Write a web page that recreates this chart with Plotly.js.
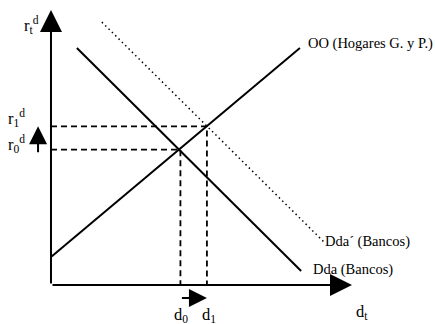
<!DOCTYPE html>
<html>
<head>
<meta charset="utf-8">
<script src="https://cdn.plot.ly/plotly-3.0.1.min.js"></script>
<style>
  html, body { margin: 0; padding: 0; background: #fff; }
  #chart { width: 435px; height: 324px; }
</style>
</head>
<body>
<div id="chart"></div>
<script>
/* ─── Mercado de depósitos: oferta OO y demanda Dda / Dda´ ─── */

// curve end points (abstract units, origin at the axes corner)
const ooX = [0, 82.7];
const ooY = [10.2, 86.2];
const ddaX = [8.6, 83.1];
const ddaY = [86.2, 5.1];
const ddaPrimeX = [16.9, 91.0];
const ddaPrimeY = [95.6, 15.3];

// equilibria: 0 = before the shift, 1 = after
const dEq = [43.0, 51.8];
const rEq = [49.2, 57.7];

const curveNames = ['OO (Hogares G. y P.)', 'Dda (Bancos)', 'Dda´ (Bancos)'];
const rLabels = ['r<sub>0</sub><sup>d</sup>', 'r<sub>1</sub><sup>d</sup>'];
const dLabels = ['d<sub>0</sub>', 'd<sub>1</sub>'];
const axisLabels = ['d<sub>t</sub>', 'r<sub>t</sub><sup>d</sup>'];

const INK = '#000000';
const SERIF = 'Liberation Serif, Times New Roman, serif';
const FONT = { family: SERIF, size: 14.5, color: INK };
const SYM_FONT = { family: SERIF, size: 16.5, color: INK };

function line(x, y, dash, width) {
    return {
        x: x, y: y, type: 'scatter', mode: 'lines', hoverinfo: 'skip',
        cliponaxis: false,
        line: { color: INK, width: width, dash: dash },
    };
}

const traces = [
    line(ooX, ooY, 'solid', 2),
    line(ddaX, ddaY, 'solid', 2),
    line(ddaPrimeX, ddaPrimeY, '1.5px,3.2px', 1.5),
    // guide lines to the axes
    line([0, dEq[1], dEq[1]], [rEq[1], rEq[1], 0], '6px,4px', 1.8),
    line([0, dEq[0], dEq[0]], [rEq[0], rEq[0], 0], '6px,4px', 1.8),
];

function arrow(x0, y0, x1, y1, size) {
    return {
        x: x1, y: y1, ax: x0, ay: y0,
        xref: 'x', yref: 'y', axref: 'x', ayref: 'y',
        text: '', showarrow: true,
        arrowhead: 2, arrowsize: size, arrowwidth: 2, arrowcolor: INK,
    };
}

function label(text, x, y, anchor, font) {
    return {
        text: text, x: x, y: y, xref: 'x', yref: 'y',
        xanchor: anchor || 'center', yanchor: 'middle',
        showarrow: false, font: font || FONT,
    };
}

const annotations = [
    // axes
    arrow(0, 0, 0, 100, 2.2),
    arrow(0, 0, 100, 0, 2.2),
    // shift arrows
    arrow(-4.3, rEq[0] - 1.5, -4.3, rEq[1], 1.8),
    arrow(dEq[0], -4.7, dEq[1], -4.7, 1.8),
    // texts
    label(axisLabels[1], -6.6, 94.5, 'center', SYM_FONT),
    label(axisLabels[0], 103.3, -9.8, 'center', SYM_FONT),
    label(rLabels[1], -11.3, 60.6, 'center', SYM_FONT),
    label(rLabels[0], -11.3, 51.2, 'center', SYM_FONT),
    label(dLabels[0], dEq[0] + 0.2, -11.0, 'center', SYM_FONT),
    label(dLabels[1], dEq[1] + 0.6, -11.0, 'center', SYM_FONT),
    label(curveNames[0], 84.7, 87.8, 'left'),
    label(curveNames[1], 86.4, 5.6, 'left'),
    label(curveNames[2], 90.4, 16, 'left'),
];

// the whole 435x324 canvas is the plotting area, so labels left of / below the axes stay visible
const layout = {
    width: 435,
    height: 324,
    margin: { l: 0, r: 0, t: 0, b: 0, pad: 0 },
    paper_bgcolor: '#ffffff',
    plot_bgcolor: '#ffffff',
    showlegend: false,
    xaxis: { range: [-16.94, 127.57], visible: false, fixedrange: true },
    yaxis: { range: [-14.18, 103.64], visible: false, fixedrange: true },
    annotations: annotations,
    font: FONT,
};

Plotly.newPlot('chart', traces, layout, { staticPlot: true, displayModeBar: false });
</script>
</body>
</html>
